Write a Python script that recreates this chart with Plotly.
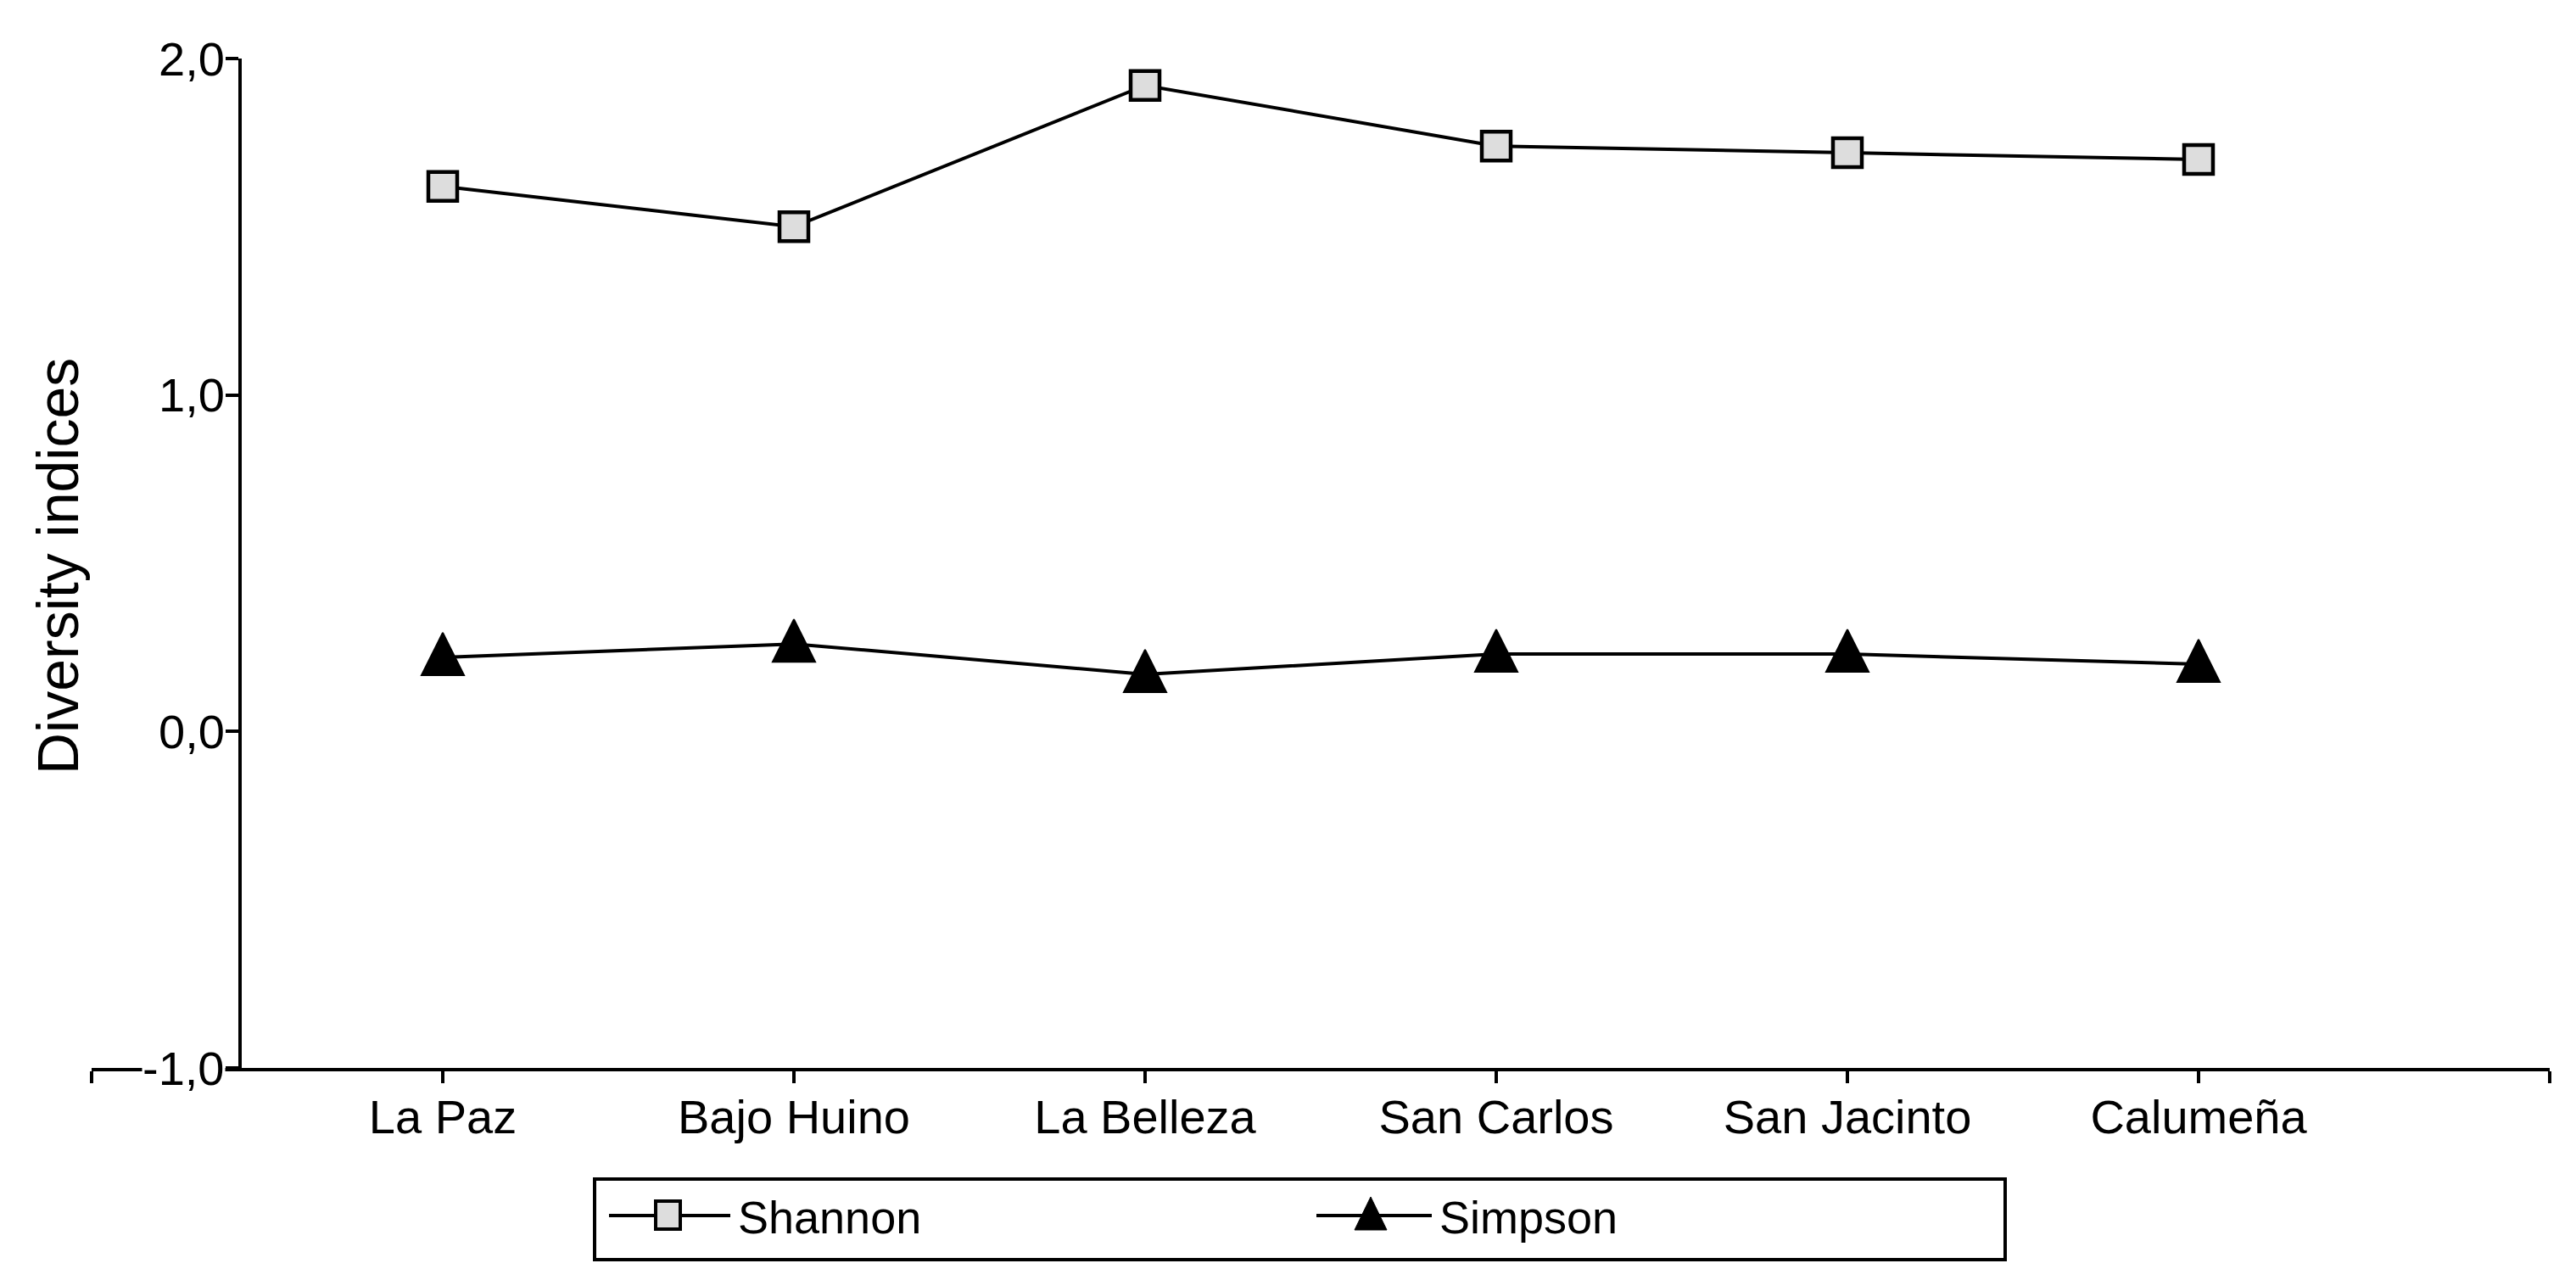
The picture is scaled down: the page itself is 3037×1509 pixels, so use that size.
import plotly.graph_objects as go

# ---- data ----
categories = ["La Paz", "Bajo Huino", "La Belleza", "San Carlos", "San Jacinto", "Calumeña"]
shannon = [1.62, 1.50, 1.92, 1.74, 1.72, 1.70]
simpson = [0.22, 0.26, 0.17, 0.23, 0.23, 0.20]
y_tick_vals = [-1, 0, 1, 2]
y_tick_text = ["-1,0", "0,0", "1,0", "2,0"]
y_title = "Diversity indices"
series_names = ["Shannon", "Simpson"]

# ---- layout geometry (pixels) ----
W, H = 3037, 1509
L, R, T, B = 100, 39, 61, 258
PW = W - L - R
PH = H - T - B
FONT = "Liberation Sans, Arial, sans-serif"


def px(xp):
    return (xp - L) / PW


def py(yp):
    return (H - B - yp) / PH


xi = list(range(len(categories)))

fig = go.Figure()
fig.add_trace(go.Scatter(
    x=xi, y=shannon, mode="lines+markers", name=series_names[0],
    line=dict(color="black", width=4),
    marker=dict(symbol="square", size=34, color="#dddddd",
                line=dict(color="black", width=4.5)),
    showlegend=False, cliponaxis=False,
))
fig.add_trace(go.Scatter(
    x=xi, y=simpson, mode="lines+markers", name=series_names[1],
    line=dict(color="black", width=4),
    marker=dict(symbol="arrow-down", angle=180, standoff=29, size=50,
                color="black", line=dict(color="black", width=2)),
    showlegend=False, cliponaxis=False,
))

annotations = []
for v, t in zip(y_tick_vals, y_tick_text):
    annotations.append(dict(
        x=px(258), xref="paper", y=v, yref="y", text=t, showarrow=False,
        xanchor="right", yanchor="middle", bgcolor="white", borderpad=0,
        font=dict(family=FONT, size=56, color="black"),
    ))
annotations.append(dict(
    x=px(60), xref="paper", y=py(660), yref="paper", text=y_title,
    showarrow=False, textangle=-90, xanchor="center", yanchor="middle",
    font=dict(family=FONT, size=68, color="black"),
))

# legend (manual)
leg_y = 1425
annotations.append(dict(
    x=px(860), xref="paper", y=py(1427), yref="paper", text=series_names[0],
    showarrow=False, xanchor="left", yanchor="middle",
    font=dict(family=FONT, size=54, color="black"),
))
annotations.append(dict(
    x=px(1687), xref="paper", y=py(1427), yref="paper", text=series_names[1],
    showarrow=False, xanchor="left", yanchor="middle",
    font=dict(family=FONT, size=54, color="black"),
))

shapes = [
    dict(type="rect", xref="paper", yref="paper",
         x0=px(693), x1=px(2356), y0=py(1382), y1=py(1477),
         line=dict(color="black", width=4), fillcolor="rgba(0,0,0,0)"),
    dict(type="line", xref="paper", yref="paper",
         x0=px(710), x1=px(853), y0=py(leg_y), y1=py(leg_y),
         line=dict(color="black", width=4)),
    dict(type="rect", xref="paper", yref="paper",
         x0=px(765), x1=px(794), y0=py(1408), y1=py(1441),
         line=dict(color="black", width=4), fillcolor="#dddddd"),
    dict(type="line", xref="paper", yref="paper",
         x0=px(1544), x1=px(1680), y0=py(leg_y), y1=py(leg_y),
         line=dict(color="black", width=4)),
    dict(type="path", xref="paper", yref="paper",
         path=f"M{px(1608)},{py(1403)} L{px(1589)},{py(1442)} L{px(1627)},{py(1442)} Z",
         line=dict(color="black", width=1), fillcolor="black"),
]

fig.update_layout(
    width=W, height=H,
    margin=dict(l=L, r=R, t=T, b=B, pad=0),
    paper_bgcolor="white", plot_bgcolor="white",
    showlegend=False,
    font=dict(family=FONT, size=56, color="black"),
    xaxis=dict(
        range=[-1, 6], tickmode="array",
        tickvals=list(range(-1, len(categories) + 1)),
        ticktext=[""] + categories + [""],
        ticks="outside", ticklen=14, tickwidth=4, tickcolor="black",
        ticklabelstandoff=-8,
        showline=True, linewidth=4, linecolor="black",
        showgrid=False, zeroline=False,
        tickfont=dict(family=FONT, size=56, color="black"),
    ),
    yaxis=dict(
        range=[-1, 2], tickmode="array", tickvals=y_tick_vals,
        showticklabels=False,
        ticks="outside", ticklen=15, tickwidth=4, tickcolor="black",
        showline=True, linewidth=4, linecolor="black",
        showgrid=False, zeroline=False,
        anchor="free", position=px(275),
    ),
    annotations=annotations,
    shapes=shapes,
)

fig.write_html("out.html")
